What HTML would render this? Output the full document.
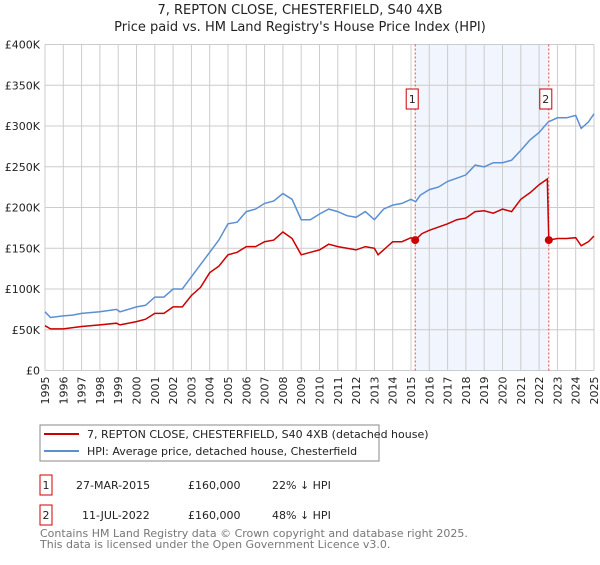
<!DOCTYPE html>
<html><head><meta charset="utf-8"><style>
body{margin:0;background:#fff;font-family:"Liberation Sans","DejaVu Sans",sans-serif;}
svg text{font-family:"DejaVu Sans","Liberation Sans",sans-serif;}
</style></head><body>
<svg id="c" width="600" height="560" xmlns="http://www.w3.org/2000/svg">
<text x="300" y="14" text-anchor="middle" font-size="13" fill="#222">7, REPTON CLOSE, CHESTERFIELD, S40 4XB</text>
<text x="300" y="31" text-anchor="middle" font-size="13" fill="#222">Price paid vs. HM Land Registry's House Price Index (HPI)</text>
<g id="plot"></g>
<g>
<rect x="40" y="425" width="339" height="36" fill="#fff" stroke="#888"/>
<line x1="44" y1="434" x2="79" y2="434" stroke="#cc0000" stroke-width="2"/>
<text x="87" y="438" font-size="11" fill="#222">7, REPTON CLOSE, CHESTERFIELD, S40 4XB (detached house)</text>
<line x1="44" y1="451" x2="79" y2="451" stroke="#5b8fd4" stroke-width="2"/>
<text x="87" y="455" font-size="11" fill="#222">HPI: Average price, detached house, Chesterfield</text>
</g>
<g font-size="11" fill="#222">
<rect x="40" y="475" width="12" height="20" fill="#fff" stroke="#cc0000"/>
<text x="46" y="489" text-anchor="middle">1</text>
<text x="76" y="489">27-MAR-2015</text><text x="188" y="489">£160,000</text><text x="272" y="489">22% ↓ HPI</text>
<rect x="40" y="505" width="12" height="20" fill="#fff" stroke="#cc0000"/>
<text x="46" y="519" text-anchor="middle">2</text>
<text x="82" y="519">11-JUL-2022</text><text x="188" y="519">£160,000</text><text x="272" y="519">48% ↓ HPI</text>
</g>
<text x="40" y="537" font-size="11" fill="#777">Contains HM Land Registry data © Crown copyright and database right 2025.</text>
<text x="40" y="548" font-size="11" fill="#777">This data is licensed under the Open Government Licence v3.0.</text>
</svg>
<script>
const hpiYears=[1995,1995.3,1996,1996.5,1997,1998,1998.9,1999.1,2000,2000.5,2001,2001.5,2002,2002.5,2003,2003.5,2004,2004.5,2005,2005.5,2006,2006.5,2007,2007.5,2008,2008.5,2009,2009.5,2010,2010.5,2011,2011.5,2012,2012.5,2013,2013.5,2014,2014.5,2015,2015.25,2015.5,2016,2016.5,2017,2017.5,2018,2018.5,2019,2019.5,2020,2020.5,2021,2021.5,2022,2022.5,2023,2023.5,2024,2024.3,2024.7,2025];
const hpiValues=[72,65,67,68,70,72,75,72,78,80,90,90,100,100,115,130,145,160,180,182,195,198,205,208,217,210,185,185,192,198,195,190,188,195,185,198,203,205,210,207,215,222,225,232,236,240,252,250,255,255,258,270,283,292,305,310,310,313,297,305,315];
const priceYears=[1995,1995.3,1996,1997,1998,1998.9,1999.1,2000,2000.5,2001,2001.5,2002,2002.5,2003,2003.5,2004,2004.5,2005,2005.5,2006,2006.5,2007,2007.5,2008,2008.5,2009,2009.5,2010,2010.5,2011,2011.5,2012,2012.5,2013,2013.2,2014,2014.5,2015,2015.23,2015.6,2016,2017,2017.5,2018,2018.5,2019,2019.5,2020,2020.5,2021,2021.5,2022,2022.45,2022.53,2023,2023.5,2024,2024.3,2024.7,2025];
const priceValues=[55,51,51,54,56,58,56,60,63,70,70,78,78,92,102,120,128,142,145,152,152,158,160,170,162,142,145,148,155,152,150,148,152,150,142,158,158,163,160,168,172,180,185,187,195,196,193,198,195,210,218,228,235,160,162,162,163,153,158,165];
const sales=[{t:2015.23,v:160,l:"1"},{t:2022.53,v:160,l:"2"}];
const yTicks=[0,50,100,150,200,250,300,350,400];
const yLabels=["£0","£50K","£100K","£150K","£200K","£250K","£300K","£350K","£400K"];
const xTicks=[];for(let y=1995;y<=2025;y++)xTicks.push(y);
const X0=45,X1=594,Y0=370.5,Y1=44.5;
const sx=t=>X0+(t-1995)/30*(X1-X0);
const sy=v=>Y0-v/400*(Y0-Y1);
const NS="http://www.w3.org/2000/svg";
const g=document.getElementById('plot');
function mk(tag,attrs,parent){const e=document.createElementNS(NS,tag);for(const k in attrs)e.setAttribute(k,attrs[k]);(parent||g).appendChild(e);return e;}
let r=mk('rect',{x:sx(sales[0].t),y:Y1,width:sx(sales[1].t)-sx(sales[0].t),height:Y0-Y1,fill:'#eef3fc',opacity:0.8});


xTicks.forEach((t,i)=>{
 let l=mk('line',{x1:sx(t),x2:sx(t),y1:Y1,y2:Y0,stroke:'#ccc','stroke-width':1});
 
 
 let tx=mk('text',{x:0,y:0,'font-size':11,fill:'#222','text-anchor':'end',transform:`translate(${sx(t)+4},${Y0+6}) rotate(-90)`});
 tx.textContent=t;
 
 
});
yTicks.forEach((v,i)=>{
 let l=mk('line',{x1:X0,x2:X1,y1:sy(v),y2:sy(v),stroke:'#ccc','stroke-width':1});
 
 
 let tx=mk('text',{x:X0-5,y:sy(v)+4,'font-size':11,fill:'#222','text-anchor':'end'});
 tx.textContent=yLabels[i];
 
 
});
sales.forEach(s=>{
 let l=mk('line',{x1:sx(s.t),x2:sx(s.t),y1:Y1,y2:Y0,stroke:'#ee4444','stroke-width':1,'stroke-dasharray':'2,2'});
 
 
});
function path(xs,vs,color,name){
 let d=xs.map((t,i)=>(i?'L':'M')+sx(t).toFixed(1)+','+sy(vs[i]).toFixed(1)).join('');
 let p=mk('path',{d:d,fill:'none',stroke:color,'stroke-width':1.5});
 
 
}
path(hpiYears,hpiValues,'#5b8fd4','hpi-line');
path(priceYears,priceValues,'#cc0000','price-paid-line');
sales.forEach(s=>{
 let c=mk('circle',{cx:sx(s.t),cy:sy(s.v),r:4,fill:'#cc0000'});
 
 
 let b=mk('rect',{x:sx(s.t)-9,y:89,width:12,height:20,fill:'#fff',stroke:'#cc0000'});
 
 
 let tx=mk('text',{x:sx(s.t)-3,y:103,'font-size':11,'text-anchor':'middle',fill:'#222'});
 tx.textContent=s.l;
 
 
});
</script>
</body></html>
